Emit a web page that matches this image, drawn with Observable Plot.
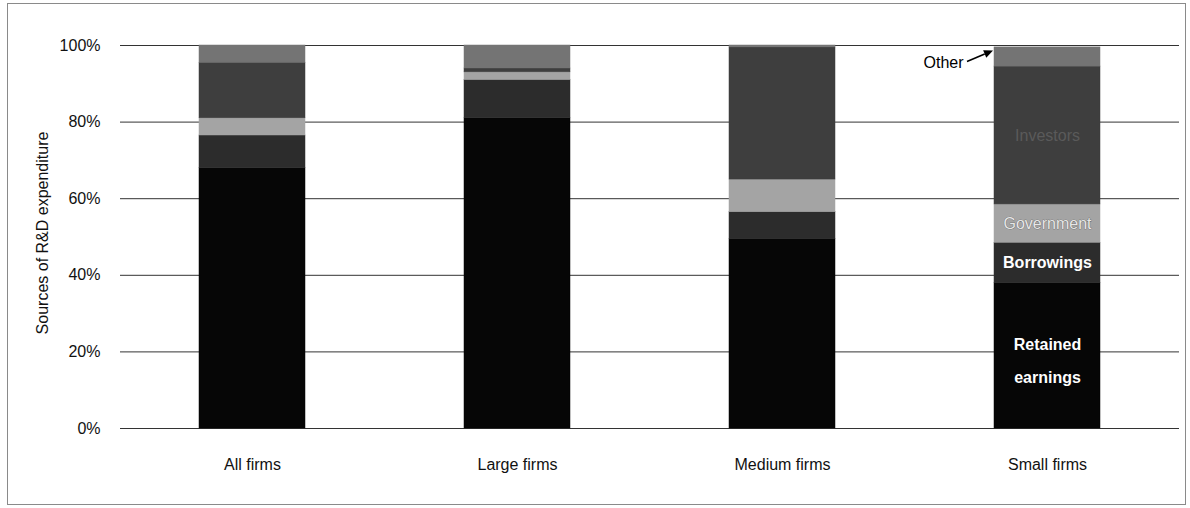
<!DOCTYPE html>
<html>
<head>
<meta charset="utf-8">
<script src="https://cdn.jsdelivr.net/npm/d3@7"></script>
<script src="https://cdn.jsdelivr.net/npm/@observablehq/plot@0.6"></script>
<style>
  html, body { margin: 0; padding: 0; background: #fff; }
  #wrap { position: relative; width: 1190px; height: 508px; overflow: hidden; }
  #border { position: absolute; left: 7px; top: 3px; width: 1177px; height: 500px; border: 1px solid #8a8a8a; pointer-events: none; }
</style>
</head>
<body>
<div id="wrap"><div id="chart"></div><div id="border"></div></div>
<script>
// ---- data ----
const firms = ["All firms", "Large firms", "Medium firms", "Small firms"];
const sources = ["Retained earnings", "Borrowings", "Government", "Investors", "Other"];
const retained   = [68,   81,  49.5, 38];
const borrowings = [8.5,  10,  7,    10.5];
const government = [4.5,  2,   8.5,  10];
const investors  = [14.5, 1,   34.5, 36];
const other      = [4.5,  6,   0.5,  5];
const yTicks = [0, 20, 40, 60, 80, 100];
const yTickLabels = ["0%", "20%", "40%", "60%", "80%", "100%"];
const yLabel = "Sources of R&D expenditure";
const labelFirm = "Small firms";
const colors = ["#060606", "#2c2c2c", "#a4a4a4", "#3e3e3e", "#747474"];

const series = [retained, borrowings, government, investors, other];
const rows = sources.flatMap((s, i) => firms.map((f, j) => ({firm: f, source: s, value: series[i][j]})));

function segLabel(source, text, opts) {
  return Plot.text(rows, Plot.stackY({
    x: "firm", y: "value", z: "source",
    text: d => (d.firm === labelFirm && d.source === source) ? text : null,
    ...opts
  }));
}

function otherArrow(index, scales, values, dimensions) {
  const x0 = scales.x(labelFirm);
  const top = d3.sum(series, s => s[firms.indexOf(labelFirm)]);
  const ym = scales.y(top - other[firms.indexOf(labelFirm)] / 2);
  const tip = [x0 - 1, ym - 6], tail = [x0 - 27, ym + 5];
  const g = d3.create("svg:g");
  const ang = Math.atan2(tip[1] - tail[1], tip[0] - tail[0]);
  const L = 9, W = 4;
  const base = [tip[0] - L * Math.cos(ang), tip[1] - L * Math.sin(ang)];
  g.append("line").attr("x1", tail[0]).attr("y1", tail[1]).attr("x2", base[0]).attr("y2", base[1])
    .attr("stroke", "#000").attr("stroke-width", 1.6);
  g.append("polygon").attr("points", [
    tip,
    [base[0] + W * Math.sin(ang), base[1] - W * Math.cos(ang)],
    [base[0] - W * Math.sin(ang), base[1] + W * Math.cos(ang)]
  ].map(p => p.join(",")).join(" ")).attr("fill", "#000");
  return g.node();
}

const chart = Plot.plot({
  width: 1190,
  height: 508,
  marginLeft: 120,
  marginRight: 11,
  marginTop: 45,
  marginBottom: 80,
  style: {fontFamily: "'Liberation Sans', Arial, sans-serif", fontSize: "16px", color: "#111", background: "transparent"},
  x: {domain: firms, paddingInner: 0.6, paddingOuter: 0.296},
  y: {domain: [0, 100]},
  color: {domain: sources, range: colors},
  marks: [
    Plot.ruleY(yTicks, {stroke: "#333", strokeWidth: 1}),
    Plot.barY(rows, {x: "firm", y: "value", fill: "source", stroke: "source", strokeWidth: 0.5}),
    Plot.axisY({ticks: yTicks, tickFormat: (d) => yTickLabels[yTicks.indexOf(d)], tickSize: 0, tickPadding: 20, fontSize: 16, label: null}),
    Plot.axisX({tickSize: 0, tickPadding: 30, fontSize: 16, label: null}),
    Plot.text([yLabel], {frameAnchor: "left", text: d => d, rotate: -90, dx: -78, dy: -4, textAnchor: "middle", fontSize: 16}),
    segLabel("Retained earnings", "Retained\nearnings", {fill: "#fff", fontSize: 16, fontWeight: "bold", lineHeight: 2.1}),
    segLabel("Borrowings", "Borrowings", {fill: "#fff", fontSize: 16, fontWeight: "bold"}),
    segLabel("Government", "Government", {fill: "#e6e6e6", stroke: "#555", strokeWidth: 0.6, fontSize: 16}),
    segLabel("Investors", "Investors", {fill: "#5a5a5a", fontSize: 16}),
    segLabel("Other", "Other", {fill: "#000", fontSize: 16, textAnchor: "end", dx: -84, dy: 6}),
    otherArrow
  ]
});
document.getElementById("chart").appendChild(chart);
</script>
</body>
</html>
